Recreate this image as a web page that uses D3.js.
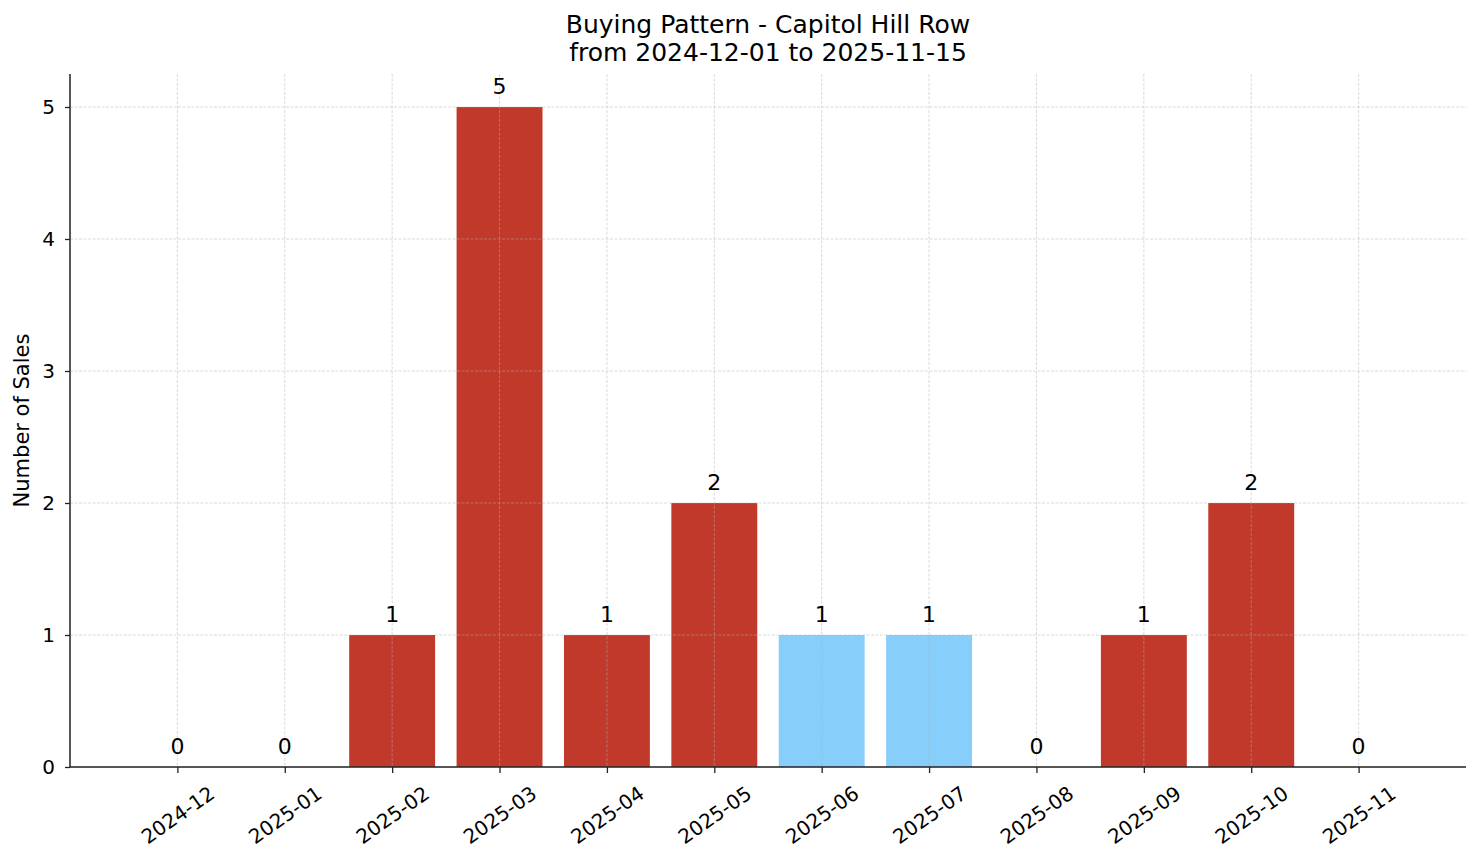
<!DOCTYPE html>
<html>
<head>
<meta charset="utf-8">
<script src="https://cdn.jsdelivr.net/npm/d3@7"></script>
<style>
  body { margin: 0; background: #fff; }
  text { font-family: "DejaVu Sans", sans-serif; fill: #000; }
</style>
</head>
<body>
<div id="vis"></div>
<script>
'use strict';

// data
var months = ['2024-12', '2025-01', '2025-02', '2025-03', '2025-04', '2025-05',
    '2025-06', '2025-07', '2025-08', '2025-09', '2025-10', '2025-11'];
var sales = [0, 0, 1, 5, 1, 2, 1, 1, 0, 1, 2, 0];
// summer months are shaded light blue
var highlight = [false, false, false, false, false, false, true, true, false, false, false, false];
var yTicks = [0, 1, 2, 3, 4, 5];
var titleLines = ['Buying Pattern - Capitol Hill Row', 'from 2024-12-01 to 2025-11-15'];

//layout
var W = 1481, H = 863;
var margin = { top: 74, right: 15, bottom: 96, left: 70 };
var dim = { w: W - margin.left - margin.right, h: H - margin.top - margin.bottom };

var x = d3.scaleLinear().domain([-1, 12]).range([0, dim.w]);
var y = d3.scaleLinear().domain([0, 5.25]).range([dim.h, 0]);
var barW = x(0.8) - x(0);

var svg = d3.select('#vis').append('svg')
    .attr('width', W)
    .attr('height', H);

var g = svg.append('g')
    .attr('transform', 'translate(' + margin.left + ',' + margin.top + ')');

//title
svg.append('text')
    .attr('x', margin.left + dim.w / 2)
    .attr('y', 33)
    .attr('text-anchor', 'middle')
    .style('font-size', '25px')
    .selectAll('tspan')
    .data(titleLines)
    .enter()
    .append('tspan')
    .attr('x', margin.left + dim.w / 2)
    .attr('dy', function (d, i) { return i === 0 ? 0 : 28; })
    .text(function (d) { return d; });

//bars
g.selectAll('.bar')
    .data(sales)
    .enter()
    .append('rect')
    .attr('class', 'bar')
    .attr('x', function (d, i) { return x(i) - barW / 2; })
    .attr('y', function (d) { return y(d); })
    .attr('width', barW)
    .attr('height', function (d) { return dim.h - y(d); })
    .attr('fill', function (d, i) { return highlight[i] ? '#87cefa' : '#c0392b'; });

//grid (drawn over bars)
g.selectAll('.grid-y')
    .data(yTicks)
    .enter()
    .append('line')
    .attr('x1', 0).attr('x2', dim.w)
    .attr('y1', function (d) { return y(d); })
    .attr('y2', function (d) { return y(d); })
    .attr('stroke', '#b0b0b0')
    .attr('stroke-opacity', 0.6)
    .attr('stroke-width', 0.8)
    .attr('stroke-dasharray', '3,1.5');
g.selectAll('.grid-x')
    .data(months)
    .enter()
    .append('line')
    .attr('x1', function (d, i) { return x(i); })
    .attr('x2', function (d, i) { return x(i); })
    .attr('y1', 0).attr('y2', dim.h)
    .attr('stroke', '#b0b0b0')
    .attr('stroke-opacity', 0.6)
    .attr('stroke-width', 0.8)
    .attr('stroke-dasharray', '3,1.5');

//value labels
g.selectAll('.val')
    .data(sales)
    .enter()
    .append('text')
    .attr('x', function (d, i) { return x(i); })
    .attr('y', function (d) { return y(d) - 13; })
    .attr('text-anchor', 'middle')
    .style('font-size', '22px')
    .text(function (d) { return d; });

//axes
var yAxis = d3.axisLeft(y).tickValues(yTicks).tickFormat(d3.format('d')).tickSize(5).tickPadding(10);
var xAxis = d3.axisBottom(x).tickValues(d3.range(months.length))
    .tickFormat(function (i) { return months[i]; }).tickSize(6).tickPadding(4);

var ya = g.append('g').call(yAxis);
ya.select('.domain').remove();
ya.selectAll('line').attr('stroke', '#222').attr('stroke-width', 1.3);
ya.selectAll('text').style('font-size', '20px').attr('font-family', null);

var xa = g.append('g').attr('transform', 'translate(0,' + dim.h + ')').call(xAxis);
xa.select('.domain').remove();
xa.selectAll('line').attr('stroke', '#222').attr('stroke-width', 1.3);
xa.selectAll('text')
    .attr('font-family', null)
    .style('font-size', '20px')
    .attr('text-anchor', 'middle')
    .attr('dy', null)
    .attr('dominant-baseline', 'central')
    .attr('y', 48)
    .attr('transform', 'rotate(-35, 0, 48)');

//spines
g.append('line')
    .attr('x1', 0).attr('x2', 0).attr('y1', 0).attr('y2', dim.h)
    .attr('stroke', '#222').attr('stroke-width', 1.5);
g.append('line')
    .attr('x1', 0).attr('x2', dim.w).attr('y1', dim.h).attr('y2', dim.h)
    .attr('stroke', '#222').attr('stroke-width', 1.5);

//y label
g.append('text')
    .attr('transform', 'translate(' + (22 - margin.left) + ',' + (dim.h / 2) + ') rotate(-90)')
    .attr('text-anchor', 'middle')
    .attr('dominant-baseline', 'central')
    .style('font-size', '21px')
    .text('Number of Sales');
</script>
</body>
</html>
